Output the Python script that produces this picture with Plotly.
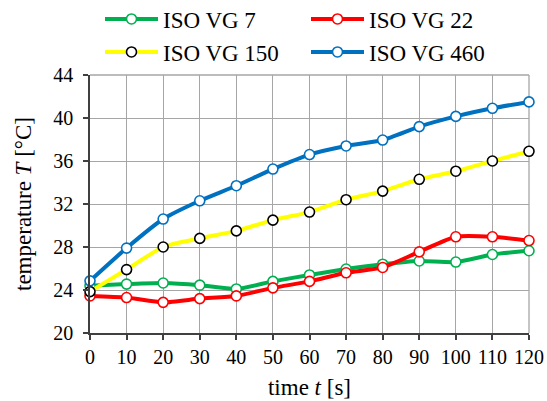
import plotly.graph_objects as go

# Temperature rise over time for four lubricant viscosity grades
time_s = [0, 10, 20, 30, 40, 50, 60, 70, 80, 90, 100, 110, 120]
vg7 = [24.4, 24.55, 24.65, 24.45, 24.1, 24.8, 25.4, 25.95, 26.4, 26.7, 26.6, 27.3, 27.65]
vg22 = [23.45, 23.3, 22.85, 23.2, 23.45, 24.2, 24.8, 25.6, 26.1, 27.55, 28.95, 28.95, 28.6]
vg150 = [23.85, 25.9, 28.0, 28.8, 29.5, 30.5, 31.25, 32.4, 33.2, 34.3, 35.05, 36.0, 36.9]
vg460 = [24.85, 27.9, 30.6, 32.3, 33.7, 35.25, 36.6, 37.4, 37.95, 39.2, 40.15, 40.9, 41.5]

series = [
    ("ISO VG 7", vg7, "#00B050", "#00B050", "legend"),
    ("ISO VG 22", vg22, "#FF0000", "#FF0000", "legend"),
    ("ISO VG 150", vg150, "#FFFF00", "#000000", "legend2"),
    ("ISO VG 460", vg460, "#0070C0", "#0070C0", "legend2"),
]

font_family = "Liberation Serif, Times New Roman, serif"

fig = go.Figure()
for name, values, line_color, marker_edge, leg in series:
    fig.add_trace(go.Scatter(
        x=time_s, y=values, name=name, mode="lines+markers",
        line=dict(color=line_color, width=4, shape="spline", smoothing=0.6),
        marker=dict(symbol="circle", size=10, color="white",
                    line=dict(color=marker_edge, width=1.6)),
        cliponaxis=False, legend=leg,
    ))

legend_common = dict(
    orientation="h", xref="container", yref="container",
    xanchor="left", yanchor="middle",
    font=dict(family=font_family, size=23, color="black"),
    bgcolor="rgba(0,0,0,0)", borderwidth=0,
    itemwidth=53, entrywidth=138,
)

fig.update_layout(
    width=547, height=401,
    margin=dict(l=90, r=18, t=75, b=68, autoexpand=False),
    paper_bgcolor="white", plot_bgcolor="white",
    font=dict(family=font_family, size=20, color="black"),
    legend=dict(x=100 / 547, y=1 - 19 / 401, **legend_common),
    legend2=dict(x=100 / 547, y=1 - 52 / 401, **legend_common),
    xaxis=dict(
        range=[0, 120], dtick=10, tick0=0,
        showgrid=True, gridcolor="#A6A6A6", gridwidth=1.3,
        showline=True, linecolor="#404040", linewidth=1.5,
        ticks="outside", ticklen=5, tickcolor="#404040", tickwidth=1.5,
        tickfont=dict(size=20), zeroline=False,
        title=dict(text="time <i>t</i> [s]", font=dict(size=23), standoff=12),
    ),
    yaxis=dict(
        range=[20, 44], dtick=4, tick0=20,
        showgrid=True, gridcolor="#A6A6A6", gridwidth=1.3,
        showline=True, linecolor="#404040", linewidth=1.5,
        ticks="outside", ticklen=5, tickcolor="#404040", tickwidth=1.5,
        tickfont=dict(size=20), zeroline=False, ticklabelstandoff=6,
        title=dict(text="temperature <i>T</i> [°C]", font=dict(size=23), standoff=15),
    ),
)

# light frame along the top and right edges of the plotting area
fig.add_shape(type="line", xref="paper", yref="paper", x0=0, x1=1, y0=1, y1=1,
              line=dict(color="#A6A6A6", width=1.3), layer="below")
fig.add_shape(type="line", xref="paper", yref="paper", x0=1, x1=1, y0=0, y1=1,
              line=dict(color="#A6A6A6", width=1.3), layer="below")

fig.write_html("out.html")
